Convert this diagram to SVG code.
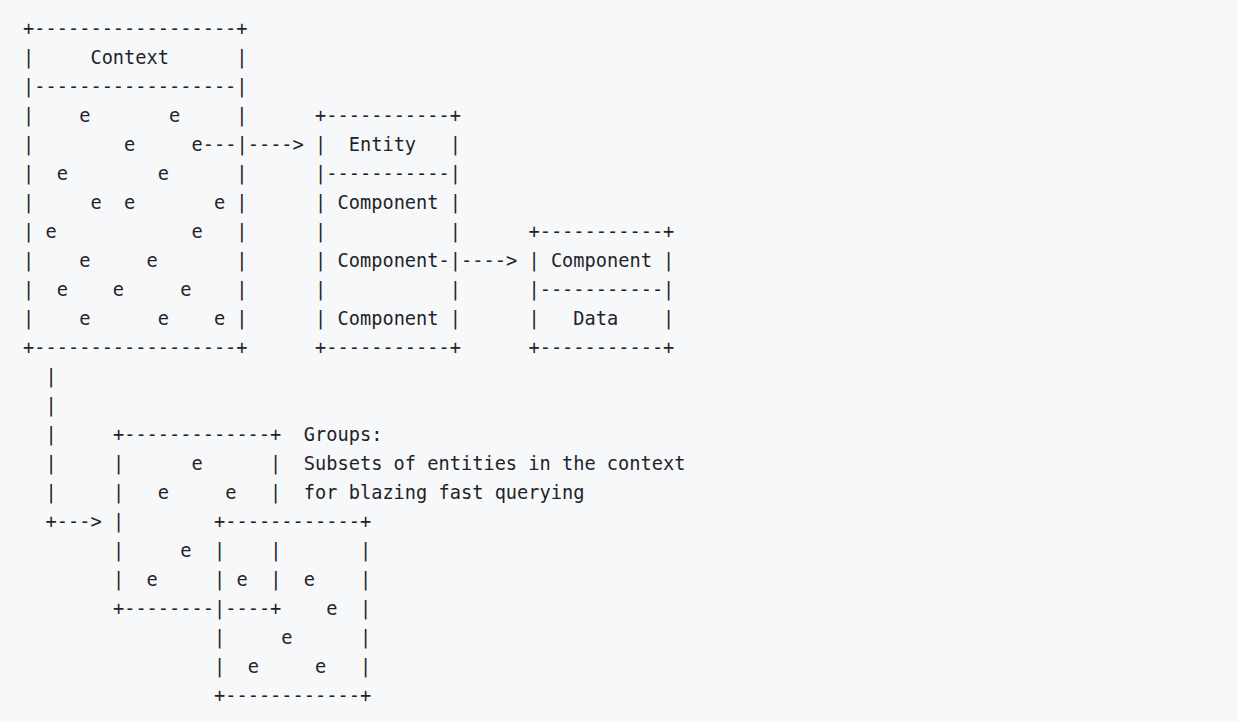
<svg xmlns="http://www.w3.org/2000/svg" width="1238" height="722" viewBox="0 0 1238 722" xml:space="preserve">
<style>
text { font-family: "DejaVu Sans Mono", "Liberation Mono", monospace; font-size: 18.65px; fill: #1f2328; white-space: pre; }
</style>
<rect x="0" y="0" width="1238" height="722" fill="#f6f8fa"/>
<g id="context">
<text x="23.1" y="34.5">+------------------+</text>
<text x="23.1" y="63.5">|     Context      |</text>
<text x="23.1" y="92.5">|------------------|</text>
<text x="23.1" y="121.5">|    e       e     |</text>
<text x="23.1" y="150.5">|        e     e</text>
<text x="236.47" y="150.5">|</text>
<text x="23.1" y="179.5">|  e        e      |</text>
<text x="23.1" y="208.5">|     e  e       e |</text>
<text x="23.1" y="237.5">| e            e   |</text>
<text x="23.1" y="266.5">|    e     e       |</text>
<text x="23.1" y="295.5">|  e    e     e    |</text>
<text x="23.1" y="324.5">|    e      e    e |</text>
<text x="23.1" y="353.5">+------------------+</text>
</g>
<g id="entity">
<text x="315.08" y="121.5">+-----------+</text>
<text x="315.08" y="150.5">|  Entity   |</text>
<text x="315.08" y="179.5">|-----------|</text>
<text x="315.08" y="208.5">| Component |</text>
<text x="315.08" y="237.5">|           |</text>
<text x="315.08" y="266.5">| Component</text>
<text x="449.84" y="266.5">|</text>
<text x="315.08" y="295.5">|           |</text>
<text x="315.08" y="324.5">| Component |</text>
<text x="315.08" y="353.5">+-----------+</text>
</g>
<g id="component-data">
<text x="528.45" y="237.5">+-----------+</text>
<text x="528.45" y="266.5">| Component |</text>
<text x="528.45" y="295.5">|-----------|</text>
<text x="528.45" y="324.5">|   Data    |</text>
<text x="528.45" y="353.5">+-----------+</text>
</g>
<g id="group-a">
<text x="112.94" y="440.5">+-------------+</text>
<text x="112.94" y="469.5">|      e      |</text>
<text x="112.94" y="498.5">|   e     e   |</text>
<text x="112.94" y="527.5">|</text>
<text x="112.94" y="556.5">|     e</text>
<text x="270.16" y="556.5">|</text>
<text x="112.94" y="585.5">|  e</text>
<text x="270.16" y="585.5">|</text>
<text x="112.94" y="614.5">+--------</text>
<text x="225.24" y="614.5">----+</text>
</g>
<g id="group-b">
<text x="214.01" y="527.5">+------------+</text>
<text x="214.01" y="556.5">|</text>
<text x="359.9" y="556.5">|</text>
<text x="214.01" y="585.5">| e</text>
<text x="303.85" y="585.5">e    |</text>
<text x="214.01" y="614.5">|</text>
<text x="326.31" y="614.5">e  |</text>
<text x="214.01" y="643.5">|     e      |</text>
<text x="214.01" y="672.5">|  e     e   |</text>
<text x="214.01" y="701.5">+------------+</text>
</g>
<g id="groups-label">
<text x="303.85" y="440.5">Groups:</text>
<text x="303.85" y="469.5">Subsets of entities in the context</text>
<text x="303.85" y="498.5">for blazing fast querying</text>
</g>
<g id="connectors">
<text x="202.78" y="150.5">---</text>
<text x="247.70" y="150.5">----&gt;</text>
<text x="438.61" y="266.5">-</text>
<text x="461.07" y="266.5">----&gt;</text>
<text x="45.56" y="382.5">|</text>
<text x="45.56" y="411.5">|</text>
<text x="45.56" y="440.5">|</text>
<text x="45.56" y="469.5">|</text>
<text x="45.56" y="498.5">|</text>
<text x="45.56" y="527.5">+---&gt;</text>
</g>
</svg>
